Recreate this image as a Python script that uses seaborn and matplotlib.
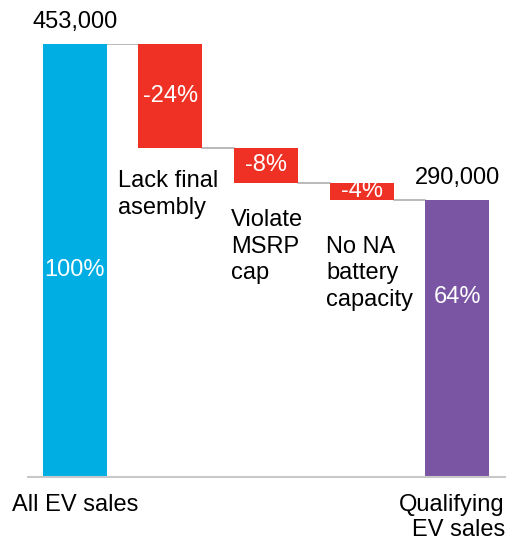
import matplotlib
matplotlib.use("Agg")
import matplotlib.pyplot as plt
import numpy as np
import seaborn as sns

# waterfall data (percent of all EV sales)
categories = ["All EV sales", "Lack final\nasembly", "Violate\nMSRP\ncap",
              "No NA\nbattery\ncapacity", "Qualifying\nEV sales"]
steps = [100, -24, -8, -4, 64]
totals = ["453,000", None, None, None, "290,000"]
bar_colors = ["#00AEE4", "#EE3124", "#EE3124", "#EE3124", "#7A55A3"]

# bar spans
heights = []
bottoms = []
level = 0
for i, s in enumerate(steps):
    if i == 0 or i == len(steps) - 1:
        heights.append(abs(s))
        bottoms.append(0)
        level = s
    else:
        heights.append(abs(s))
        bottoms.append(level + s)
        level = level + s

sns.set_style("white")
plt.rcParams["font.family"] = ["Liberation Sans", "DejaVu Sans"]
plt.rcParams["text.color"] = "black"

fig = plt.figure(figsize=(5.12, 5.42), dpi=100)
ax = fig.add_axes([28 / 512, 1 - 477 / 542, 477 / 512, 433 / 542])

sns.barplot(x=list(range(len(steps))), y=heights, color="#00AEE4",
            width=0.67, ax=ax, native_scale=True)
for p, b, c in zip(ax.patches, bottoms, bar_colors):
    p.set_y(b)
    p.set_facecolor(c)
    p.set_edgecolor("none")

# connectors
w = 0.67 / 2
for i in range(len(steps) - 1):
    lvl = heights[0] if i == 0 else bottoms[i]
    ax.plot([i + w, i + 1 - w], [lvl, lvl], color="#B4B4B4", lw=1.3, zorder=0)

fs = 17
ls = 1.28
# value labels
ax.text(0, 47.8, "100%", color="white", ha="center", va="center", fontsize=fs)
ax.text(4, 41.6, "64%", color="white", ha="center", va="center", fontsize=fs)
for i in range(1, 4):
    ax.text(i, bottoms[i] + heights[i] / 2, f"{steps[i]}%", color="white",
            ha="center", va="center", fontsize=fs)
ax.text(0, heights[0] + 5.0, totals[0], ha="center", va="center", fontsize=fs, clip_on=False)
ax.text(4, heights[4] + 5.0, totals[4], ha="center", va="center", fontsize=fs)

# category labels
ax.text(0.45, 65.3, categories[1], ha="left", va="center", fontsize=fs, linespacing=ls)
ax.text(1.63, 53.2, categories[2], ha="left", va="center", fontsize=fs, linespacing=ls)
ax.text(2.63, 47.0, categories[3], ha="left", va="center", fontsize=fs, linespacing=ls)
ax.text(-0.66, -6.5, categories[0], ha="left", va="center", fontsize=fs, clip_on=False)
ax.text(4.5, -9.4, categories[4], ha="right", va="center", fontsize=fs,
        linespacing=1.2, multialignment="right", clip_on=False)

ax.set_xlim(-0.49, 4.5)
ax.set_ylim(0, 100)
ax.set_xticks([])
ax.set_yticks([])
ax.set_xlabel("")
for side in ["top", "left", "right"]:
    ax.spines[side].set_visible(False)
ax.spines["bottom"].set_color("#C8C8C8")
ax.spines["bottom"].set_linewidth(1.5)

fig.savefig("out.png", dpi=100)
